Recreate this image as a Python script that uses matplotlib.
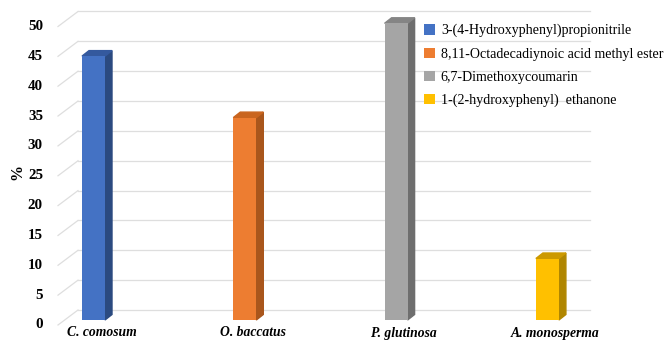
import numpy as np
import matplotlib
matplotlib.use("Agg")
import matplotlib.pyplot as plt

species = ["C. comosum", "O. baccatus", "P. glutinosa", "A. monosperma"]
compounds = ["3-(4-Hydroxyphenyl)propionitrile",
             "8,11-Octadecadiynoic acid methyl ester",
             "6,7-Dimethoxycoumarin",
             "1-(2-hydroxyphenyl)  ethanone"]
percent = [44.2, 33.9, 49.7, 10.3]
yticks = [0, 5, 10, 15, 20, 25, 30, 35, 40, 45, 50]

front_colors = ["#4472C4", "#ED7D31", "#A5A5A5", "#FFC000"]
side_colors = ["#2B4A80", "#A9561C", "#6E6E6E", "#B08600"]
top_colors = ["#34599E", "#C9651F", "#858585", "#CC9900"]

plt.rcParams["font.family"] = ["Liberation Serif", "DejaVu Serif"]

W, H, DPI = 664, 342, 100
fig = plt.figure(figsize=(W / DPI, H / DPI), dpi=DPI)

## axes = front plane of the bars, in pixels
ax_left, ax_right, ax_top, ax_bottom = 58, 570, 20, 320
ax = fig.add_axes([ax_left / W, (H - ax_bottom) / H,
                   (ax_right - ax_left) / W, (ax_bottom - ax_top) / H])

px_x = 151.3                        # pixels per category
px_y = (ax_bottom - ax_top) / 50.25  # pixels per percent
xmin = -35.5 / px_x
xmax = xmin + (ax_right - ax_left) / px_x
ax.set_xlim(xmin, xmax)
ax.set_ylim(0, 50.25)
ax.axis("off")

def dx(p):
    return p / px_x

def dy(p):
    return p / px_y

## walls: front edge is 5px below the bars, back wall 15px above
front_y = -dy(5)
wall_dx, wall_dy = dx(20), dy(15)
grid_kw = dict(color="#dedede", lw=0.9, clip_on=False, zorder=0)
for v in yticks:
    y0 = v + front_y
    ax.plot([xmin, xmin + wall_dx], [y0, y0 + wall_dy], **grid_kw)
    ax.plot([xmin + wall_dx, xmin + dx(532)], [y0 + wall_dy, y0 + wall_dy], **grid_kw)
    ax.text(xmin - dx(15), y0, str(v), ha="right", va="center",
            fontsize=10.8, fontweight="bold", clip_on=False)

ax.text(xmin - dx(41), dy(148), "%", rotation=90, ha="center", va="center",
        fontsize=11.5, fontweight="bold")

## 3d bars: front face + side + top
x = np.arange(len(species))
bw = dx(23)
bdx, bdy = dx(7), dy(5.5)
bars = ax.bar(x, percent, width=bw, color=front_colors, zorder=3, clip_on=False)
for xi, h, sc, tc in zip(x, percent, side_colors, top_colors):
    r = xi + bw / 2
    l = xi - bw / 2
    side = plt.Polygon([(r, 0), (r, h), (r + bdx, h + bdy), (r + bdx, bdy)],
                       closed=True, color=sc, zorder=2, clip_on=False)
    top = plt.Polygon([(l, h), (r, h), (r + bdx, h + bdy), (l + bdx, h + bdy)],
                      closed=True, color=tc, zorder=2, clip_on=False)
    ax.add_patch(side)
    ax.add_patch(top)

for xi, name in zip(x, species):
    ax.text(xi + dx(8), -dy(13), name, ha="center", va="center",
            fontsize=9.8, fontweight="bold", fontstyle="italic", clip_on=False)

leg = fig.legend(bars, compounds, loc="upper left",
                 bbox_to_anchor=(417 / W, 1 - 17 / H), frameon=False,
                 fontsize=10.1, handlelength=0.75, handleheight=0.75,
                 handletextpad=0.45, labelspacing=0.72, borderpad=0)

fig.savefig("out.png", dpi=DPI)
